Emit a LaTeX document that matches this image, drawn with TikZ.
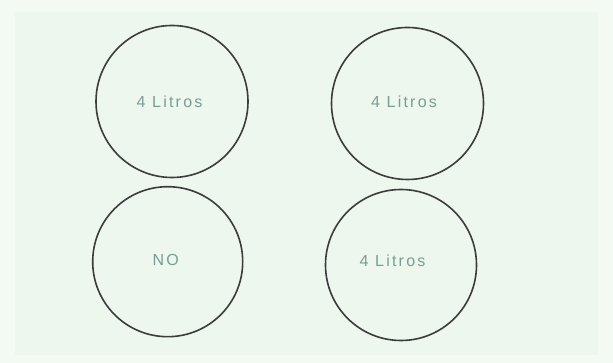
\documentclass[tikz,border=0pt]{standalone}
\usepackage{fontspec}
\setmainfont{Liberation Sans}
\newfontfamily\labelfont[LetterSpace=14]{Liberation Sans}
\definecolor{bgouter}{RGB}{243,250,243}
\definecolor{bginner}{RGB}{237,247,237}
\definecolor{ringcol}{RGB}{60,60,60}
\definecolor{txtcol}{RGB}{120,158,148}
\tikzset{
  vessel/.style={circle, draw=ringcol, line width=1.6pt, inner sep=0pt},
  vlabel/.style={font=\labelfont\fontsize{16}{18}\selectfont, text=txtcol, inner sep=0pt}
}
\begin{document}
\begin{tikzpicture}[x=1pt,y=1pt]
  \fill[bgouter] (0,0) rectangle (613,363);
  \fill[bginner] (15,8) rectangle (598,351);
  \useasboundingbox (0,0) rectangle (613,363);
  % circles
  \node[vessel, minimum size=152pt] (c1) at (172,261.5) {};
  \node[vessel, minimum size=152pt] (c2) at (407.5,259.5) {};
  \node[vessel, minimum size=150pt] (c3) at (167.7,101.3) {};
  \node[vessel, minimum size=151pt] (c4) at (401,98) {};
  % labels
  \node[vlabel] (t1) at (169.5,261) {4 Litros};
  \node[vlabel] (t2) at (404,261) {4 Litros};
  \node[vlabel] (t3) at (165.7,103) {NO};
  \node[vlabel] (t4) at (392.5,102) {4 Litros};
\end{tikzpicture}
\end{document}
